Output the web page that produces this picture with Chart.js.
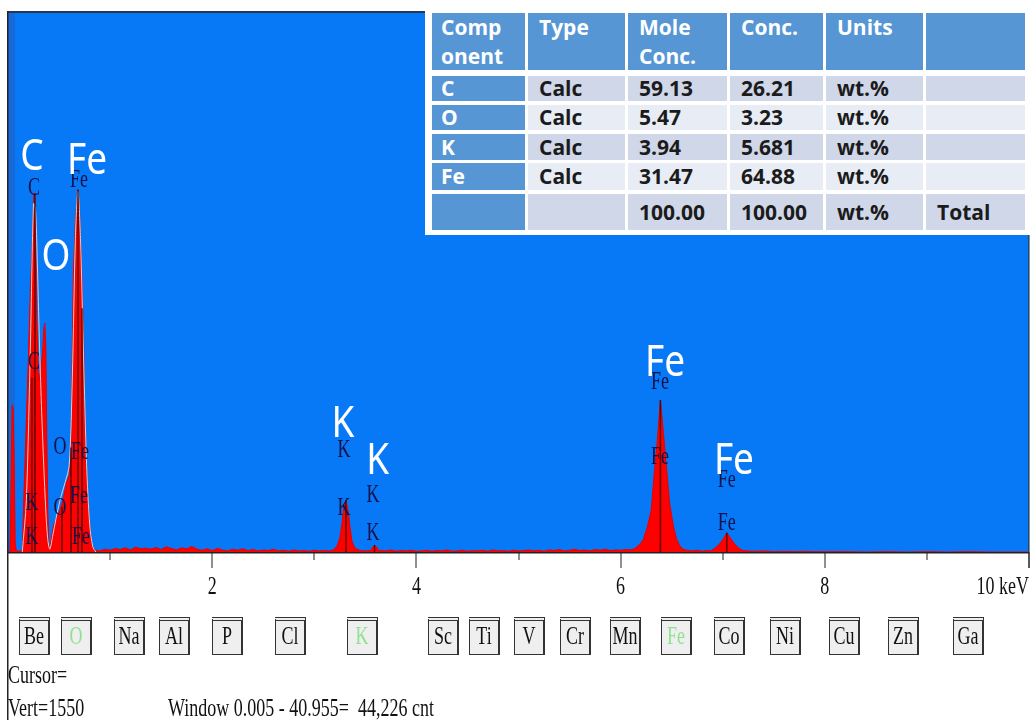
<!DOCTYPE html>
<html>
<head>
<meta charset="utf-8">
<script src="https://cdn.jsdelivr.net/npm/chart.js@4.4.1/dist/chart.umd.min.js"></script>
<style>
body { margin: 0; background: #fff; }
#wrap { position: relative; width: 1031px; height: 720px; overflow: hidden; }
#wrap canvas { position: absolute; left: 0; top: 0; }
#tbl { position: absolute; left: 425px; top: 8px; width: 606px; height: 227px; background: #fff; }
.cell { position: absolute; box-sizing: border-box; padding: 0 0 0 11px; font: 700 21px "Open Sans", sans-serif;
        display: flex; align-items: center; white-space: pre-line; line-height: 29px; color: #1b1b1b; }
.head { align-items: flex-start; color: #fff; background: #5696d5; }
.btn { position: absolute; top: 617px; width: 31px; height: 38px; box-sizing: border-box; background: #efefef;
       border: 1px solid #333; border-top: 4px double #333; border-right: 2px solid #333;
       font: 18px "Liberation Serif", serif; text-align: center; line-height: 31px; color: #111; }
.btn span, .txt span { display: inline-block; transform: scaleY(1.35); }
.txt { position: absolute; font: 18px "Liberation Serif", serif; color: #111; white-space: pre; line-height: 20px; }
</style>
</head>
<body>
<div id="wrap">
  <canvas id="c" width="1031" height="720"></canvas>
  <div id="tbl"></div>
  <div id="btns"></div>
  <div class="txt" style="left:8px;top:665px"><span>Cursor=</span></div>
  <div class="txt" style="left:8px;top:698px"><span>Vert=1550</span></div>
  <div class="txt" style="left:168px;top:698px"><span>Window 0.005 - 40.955=  44,226 cnt</span></div>
</div>
<script>
// spectrum, counts per channel (full scale 1550)
const energyKeV = [
  0.00, 0.02, 0.03, 0.04, 0.05, 0.06, 0.07, 0.08, 0.10, 0.12, 0.14, 0.16, 0.18, 0.20, 0.22, 0.24, 0.255, 0.27, 0.28,
  0.30, 0.32, 0.34, 0.35, 0.36, 0.37, 0.38, 0.39, 0.40, 0.41, 0.43, 0.45, 0.48, 0.51, 0.54, 0.57, 0.60, 0.62, 0.63,
  0.64, 0.66, 0.685, 0.70, 0.72, 0.74, 0.75, 0.76, 0.78, 0.80, 0.82, 0.84,
  0.85, 0.90, 0.95, 1.00, 1.05, 1.10, 1.15, 1.20, 1.25, 1.30, 1.35, 1.40, 1.45, 1.50, 1.55, 1.60, 1.65, 1.70, 1.75,
  1.80, 1.85, 1.90, 1.95, 2.00, 2.05, 2.10, 2.15, 2.20, 2.25, 2.30, 2.35, 2.40, 2.45, 2.50, 2.55, 2.60, 2.65, 2.70,
  2.75, 2.80, 2.85, 2.90, 2.95, 3.00, 3.05, 3.10, 3.15,
  3.18, 3.22, 3.25, 3.27, 3.29, 3.31, 3.33, 3.35, 3.37, 3.40, 3.45, 3.50, 3.55, 3.57, 3.59, 3.61, 3.63,
  3.70, 3.75, 3.80, 3.85, 3.90, 3.95, 4.00, 4.05, 4.10, 4.15, 4.20, 4.25, 4.30, 4.35, 4.40, 4.45, 4.50, 4.55, 4.60,
  4.65, 4.70, 4.75, 4.80, 4.85, 4.90, 4.95, 5.00, 5.05, 5.10, 5.15, 5.20, 5.25, 5.30, 5.35, 5.40, 5.45, 5.50, 5.55,
  5.60, 5.65, 5.70, 5.75, 5.80, 5.85, 5.90, 5.95, 6.00, 6.05,
  6.10, 6.14, 6.18, 6.22, 6.26, 6.30, 6.33, 6.36, 6.39, 6.42, 6.45, 6.48, 6.52, 6.55, 6.58, 6.61, 6.65, 6.70, 6.75,
  6.80, 6.85, 6.88, 6.92, 6.96, 7.00, 7.04, 7.08, 7.12, 7.16, 7.20, 7.30, 7.40, 7.50, 7.60, 7.70, 7.80, 7.90,
  8.00, 8.20, 8.40, 8.60, 8.80, 9.00, 9.20, 9.40, 9.60, 9.80, 10.00
];
const counts = [
  0, 0, 200, 422, 415, 280, 30, 4, 2, 3, 6, 200, 380, 560, 760, 900, 1030, 950, 700,
  490, 520, 580, 640, 657, 600, 330, 120, 20, 14, 50, 80, 100, 121, 150, 198, 220, 330, 600,
  800, 950, 1040, 980, 820, 620, 420, 300, 160, 80, 20, 8,
  6, 3, 8, 5, 10, 7, 12, 6, 14, 9, 11, 8, 13, 7, 15, 10, 6, 12, 9,
  16, 8, 5, 9, 4, 10, 6, 3, 8, 5, 9, 4, 7, 3, 6, 4, 8, 3, 5,
  2, 6, 3, 4, 2, 5, 3, 4, 3,
  5, 15, 40, 80, 130, 149, 120, 70, 30, 10, 4, 3, 4, 12, 20, 14, 5,
  3, 6, 2, 4, 3, 5, 2, 3, 5, 2, 4, 3, 6, 2, 3, 5, 2, 4, 3,
  5, 2, 6, 3, 4, 2, 5, 3, 4, 6, 3, 5, 2, 6, 4, 7, 3, 5, 8,
  4, 6, 3, 7, 5, 8, 4, 6, 5, 7,
  6, 10, 20, 34, 70, 120, 227, 321, 436, 340, 240, 140, 70, 36, 18, 8, 5, 3, 5,
  2, 4, 3, 10, 20, 35, 55, 38, 22, 10, 4, 2, 3, 1, 2, 1, 2, 1,
  1, 1, 0, 1, 0, 1, 0, 1, 0, 0, 0
];

// light fitted curve over the low energy peaks
const fitKeV = [0.14, 0.18, 0.22, 0.25, 0.27, 0.29, 0.31, 0.33, 0.35, 0.37, 0.39, 0.41, 0.44, 0.48, 0.52, 0.56,
                0.60, 0.63, 0.66, 0.685, 0.71, 0.74, 0.77, 0.80, 0.83, 0.86];
const fitCounts = [0, 150, 600, 1000, 980, 800, 580, 400, 250, 120, 35, 8, 50, 110, 160, 200,
                   250, 500, 900, 1035, 900, 560, 250, 80, 15, 0];

// element marker lines (energy, height in counts)
const markerKeV = [0.235, 0.264, 0.529, 0.617, 0.686, 0.725, 3.31, 3.59, 6.39, 7.04];
const markerTop = [500, 1030, 130, 300, 1040, 700, 149, 20, 436, 55];

// dark KLM labels
const klmText = ['C', 'C', 'K', 'K', 'O', 'O', 'Fe', 'Fe', 'Fe', 'Fe', 'K', 'K', 'K', 'K', 'Fe', 'Fe', 'Fe', 'Fe'];
const klmKeV = [0.255, 0.255, 0.235, 0.235, 0.509, 0.509, 0.695, 0.705, 0.695, 0.715, 3.29, 3.29, 3.575, 3.575,
                6.385, 6.385, 7.04, 7.04];
const klmCount = [1045, 545, 141, 43, 301, 126, 1068, 287, 161, 43, 293, 126, 164, 55, 488, 273, 207, 83];

// big white peak names
const peakText = ['C', 'Fe', 'O', 'K', 'K', 'Fe', 'Fe'];
const peakKeV = [0.235, 0.774, 0.470, 3.28, 3.62, 6.435, 7.11];
const peakCount = [1134, 1122, 847, 367, 261, 542, 261];

// axis
const tickKeV = [1, 2, 3, 4, 5, 6, 7, 8, 9, 10];
const labelKeV = [2, 4, 6, 8, 10];
const labelText = ['2', '4', '6', '8', '10 keV'];

// quantification table
const tableHead = ['Comp\nonent', 'Type', 'Mole\nConc.', 'Conc.', 'Units', ''];
const components = ['C', 'O', 'K', 'Fe', ''];
const types = ['Calc', 'Calc', 'Calc', 'Calc', ''];
const moleConc = ['59.13', '5.47', '3.94', '31.47', '100.00'];
const conc = ['26.21', '3.23', '5.681', '64.88', '100.00'];
const units = ['wt.%', 'wt.%', 'wt.%', 'wt.%', 'wt.%'];
const totals = ['', '', '', '', 'Total'];

// element buttons
const buttonElements = ['Be', 'O', 'Na', 'Al', 'P', 'Cl', 'K', 'Sc', 'Ti', 'V', 'Cr', 'Mn', 'Fe', 'Co', 'Ni', 'Cu', 'Zn', 'Ga'];
const shownElements = ['O', 'K', 'Fe'];
const buttonLeft = [19, 61, 114, 159, 212, 275, 347, 428, 469, 514, 560, 610, 661, 714, 770, 829, 888, 953];

// ---- table
const colX = [7, 103, 203, 305, 401, 501];
const colW = [93, 97, 99, 93, 97, 99];
const rowY = [5, 68, 97, 126, 155, 186];
const rowH = [57, 25, 25, 26, 27, 36];
const tbl = document.getElementById('tbl');
function addCell(text, c, r, cls, bg, color) {
  const d = document.createElement('div');
  d.className = 'cell ' + cls;
  d.style.left = colX[c] + 'px';
  d.style.top = rowY[r] + 'px';
  d.style.width = colW[c] + 'px';
  d.style.height = rowH[r] + 'px';
  if (c === 0) d.style.paddingLeft = '9px';
  if (bg) d.style.background = bg;
  if (color) d.style.color = color;
  d.textContent = text;
  tbl.appendChild(d);
}
tableHead.forEach((t, c) => addCell(t, c, 0, 'head'));
const cols = [components, types, moleConc, conc, units, totals];
for (let r = 0; r < components.length; r++) {
  const bg = r % 2 === 0 ? '#cfd7e8' : '#e8ecf4';
  cols.forEach((col, c) => {
    if (c === 0) addCell(col[r], c, r + 1, '', '#5696d5', '#fff');
    else addCell(col[r], c, r + 1, '', bg);
  });
}

// ---- buttons
const btns = document.getElementById('btns');
buttonElements.forEach((el, i) => {
  const b = document.createElement('div');
  b.className = 'btn';
  b.style.left = buttonLeft[i] + 'px';
  if (shownElements.includes(el)) b.style.color = '#8fe28f';
  b.innerHTML = '<span>' + el + '</span>';
  btns.appendChild(b);
});

// ---- chart
function tallText(ctx, text, x, y, font, sy, align, color) {
  ctx.save();
  ctx.font = font;
  ctx.fillStyle = color;
  ctx.textAlign = align;
  ctx.textBaseline = 'middle';
  ctx.translate(x, y);
  ctx.scale(1, sy);
  ctx.fillText(text, 0, 0);
  ctx.restore();
}

const edsPlugin = {
  id: 'eds',
  beforeDraw(chart) {
    const { ctx, chartArea: a } = chart;
    ctx.save();
    ctx.fillStyle = '#fff';
    ctx.fillRect(0, 0, chart.width, chart.height);
    ctx.fillStyle = '#0879f6';
    ctx.fillRect(a.left, a.top, a.right - a.left, a.bottom - a.top);
    ctx.fillStyle = 'rgba(50,80,160,0.35)';
    ctx.fillRect(a.left, a.top, 7, a.bottom - a.top);
    ctx.restore();
  },
  afterDatasetsDraw(chart) {
    const { ctx, chartArea: a } = chart;
    const xs = chart.scales.x, ys = chart.scales.y;
    ctx.save();
    // marker lines
    ctx.strokeStyle = 'rgba(70,0,0,0.85)';
    ctx.lineWidth = 1.5;
    markerKeV.forEach((e, i) => {
      const x = xs.getPixelForValue(e);
      ctx.beginPath();
      ctx.moveTo(x, ys.getPixelForValue(0));
      ctx.lineTo(x, ys.getPixelForValue(markerTop[i]));
      ctx.stroke();
    });
    // KLM labels
    klmText.forEach((t, i) => {
      tallText(ctx, t, xs.getPixelForValue(klmKeV[i]), ys.getPixelForValue(klmCount[i]),
        '18px "Liberation Serif", serif', 1.45, 'center', '#12124a');
    });
    // peak names
    peakText.forEach((t, i) => {
      tallText(ctx, t, xs.getPixelForValue(peakKeV[i]), ys.getPixelForValue(peakCount[i]),
        '37px "Noto Sans", sans-serif', 1.2, 'center', '#ffffff');
    });
    // frame
    ctx.fillStyle = '#2a3550';
    ctx.fillRect(a.left - 1, a.top - 1, a.right - a.left + 1, 2);
    ctx.fillStyle = '#222';
    ctx.fillRect(a.left - 1, a.top - 1, 1.5, chart.height - a.top + 1);
    ctx.fillRect(a.right - 0.5, a.top, 1, a.bottom - a.top + 16);
    // axis
    ctx.fillRect(a.left, a.bottom, a.right - a.left, 1.5);
    tickKeV.forEach(t => {
      const x = Math.round(xs.getPixelForValue(t)) - 0.5;
      ctx.fillRect(x, a.bottom, 1, t % 2 === 0 ? 16 : 8);
    });
    labelKeV.forEach((t, i) => {
      const x = xs.getPixelForValue(t);
      const last = i === labelKeV.length - 1;
      tallText(ctx, labelText[i], x, a.bottom + 35, '18px "Liberation Serif", serif', 1.45,
        last ? 'right' : 'center', '#111');
    });
    ctx.restore();
  }
};

new Chart(document.getElementById('c'), {
  type: 'line',
  data: {
    datasets: [{
      data: energyKeV.map((e, i) => ({ x: e, y: counts[i] })),
      fill: 'origin',
      backgroundColor: '#ff0000',
      borderColor: '#e80000',
      borderWidth: 1,
      pointRadius: 0,
      tension: 0,
      order: 2
    }, {
      data: fitKeV.map((e, i) => ({ x: e, y: fitCounts[i] })),
      fill: false,
      borderColor: '#d2d2d2',
      borderWidth: 1,
      pointRadius: 0,
      tension: 0.3,
      order: 1
    }]
  },
  options: {
    responsive: false,
    animation: false,
    layout: { padding: { left: 8, right: 2, top: 12, bottom: 168 } },
    scales: {
      x: { type: 'linear', min: 0, max: 10, display: false },
      y: { min: 0, max: 1550, display: false }
    },
    plugins: { legend: { display: false }, tooltip: { enabled: false } }
  },
  plugins: [edsPlugin]
});
</script>
</body>
</html>
